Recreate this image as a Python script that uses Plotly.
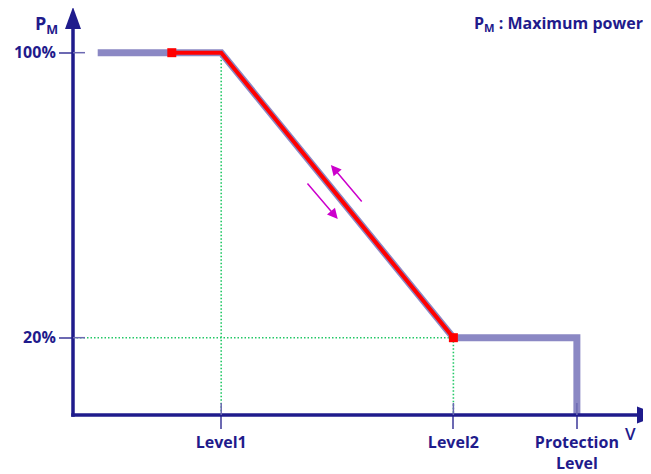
import plotly.graph_objects as go

# ---- data (V in arbitrary units, P in % of maximum power) ----
tick_names = ["Level1", "Level2", "Protection<br>Level"]
tick_v = [3.0, 7.7, 10.2]
p_ticks = [100, 20]
p_tick_labels = ["100%", "20%"]

v_start = 0.5      # start of the curve
v_red = 2.0        # start of the active (red) part
p_max = 100
p_min = 20
p_floor = -1.7     # P level of the V axis

gray_v = [v_start, tick_v[0], tick_v[1], tick_v[2], tick_v[2]]
gray_p = [p_max, p_max, p_min, p_min, p_floor]
red_v = [v_red, tick_v[0], tick_v[1]]
red_p = [p_max, p_max, p_min]
mark_v = [v_red, tick_v[1]]
mark_p = [p_max, p_min]

# arrows along the slope: (start_v, start_p, end_v, end_p)
arrows = [(4.72, 63.7, 5.36, 53.3), (5.87, 57.8, 5.22, 68.5)]

NAVY = "#1f1b8c"
TICK = "#6c69b2"
GRAY = "#8b88c4"
GREEN = "#22c866"
MAG = "#cc00cc"
FONT = "Open Sans"

# the page body has an 8px margin: the figure is sized to fill the rest
OFF = 8
W, H = 651 - OFF, 474 - OFF
AX_X, AX_Y = 73, 415            # page position of the axes corner
L = AX_X - OFF
B = H - (AX_Y - OFF)
PW, PH = W - L, H - B
UX = 49.4
UY = 3.5625
XR = [0, PW / UX]
YR = [p_floor, p_floor + PH / UY]


def px(page_x):
    return (page_x - AX_X) / PW


def py(page_y):
    return (AX_Y - page_y) / PH


fig = go.Figure()

# green dotted guides
fig.add_trace(go.Scatter(
    x=[tick_v[0], tick_v[0], None, 0, tick_v[1], None, tick_v[1], tick_v[1]],
    y=[p_max, p_floor, None, p_min, p_min, None, p_min, p_floor],
    mode="lines", line=dict(color=GREEN, width=1.6, dash="1.5px,2px"),
    hoverinfo="skip", showlegend=False, cliponaxis=False))

fig.add_trace(go.Scatter(x=gray_v, y=gray_p, mode="lines",
                         line=dict(color=GRAY, width=7),
                         showlegend=False, cliponaxis=False))
fig.add_trace(go.Scatter(x=red_v, y=red_p, mode="lines",
                         line=dict(color="#ff0000", width=4),
                         showlegend=False, cliponaxis=False))
fig.add_trace(go.Scatter(x=mark_v, y=mark_p, mode="markers",
                         marker=dict(color="#ff0000", size=9, symbol="square"),
                         showlegend=False, cliponaxis=False))

shapes = []
# axis lines
shapes.append(dict(type="line", xref="paper", yref="paper", x0=0, x1=0,
                   y0=py(416.75), y1=py(26), line=dict(color=NAVY, width=3.5)))
shapes.append(dict(type="line", xref="paper", yref="paper", x0=px(71.25), x1=px(640),
                   y0=0, y1=0, line=dict(color=NAVY, width=3.5)))
# arrowheads
shapes.append(dict(type="path", xref="paper", yref="paper",
                   xsizemode="pixel", ysizemode="pixel", xanchor=0, yanchor=1,
                   path="M0,1 L-8,-21 L8,-21 Z", fillcolor=NAVY, line=dict(width=0)))
shapes.append(dict(type="path", xref="paper", yref="paper",
                   xsizemode="pixel", ysizemode="pixel", xanchor=1, yanchor=0,
                   path="M9,0 L-14,8.5 L-14,-8.5 Z", fillcolor=NAVY, line=dict(width=0)))
# inner parts of the ticks
for p in p_ticks:
    shapes.append(dict(type="line", xref="paper", yref="y", x0=0, x1=12 / PW,
                       y0=p, y1=p, line=dict(color=TICK, width=1.5)))
for v in tick_v:
    shapes.append(dict(type="line", xref="x", yref="paper", x0=v, x1=v,
                       y0=0, y1=12 / PH, line=dict(color=TICK, width=1.5)))

annotations = []
for (x0, y0, x1, y1) in arrows:
    annotations.append(dict(x=x1, y=y1, ax=x0, ay=y0, xref="x", yref="y",
                            axref="x", ayref="y", text="", showarrow=True,
                            arrowhead=2, arrowsize=1.4, arrowwidth=1.5,
                            arrowcolor=MAG))
tf = dict(family=FONT, size=16, color=NAVY, weight="bold")
annotations.append(dict(text="P<sub>M</sub>", xref="paper", yref="paper",
                        x=px(46), y=py(25), xanchor="center", yanchor="middle",
                        showarrow=False,
                        font=dict(family=FONT, size=18, color=NAVY, weight="bold")))
annotations.append(dict(text="P<sub>M</sub> : Maximum power", xref="paper", yref="paper",
                        x=px(645), y=py(23), xanchor="right", yanchor="middle",
                        showarrow=False,
                        font=dict(family=FONT, size=16, color=NAVY, weight="bold")))
annotations.append(dict(text="V", xref="paper", yref="paper",
                        x=px(630), y=py(433), xanchor="center", yanchor="middle",
                        showarrow=False,
                        font=dict(family=FONT, size=17, color=NAVY, weight=600)))

fig.update_layout(
    width=W, height=H, margin=dict(l=L, r=0, t=0, b=B),
    plot_bgcolor="white", paper_bgcolor="white",
    shapes=shapes, annotations=annotations,
    xaxis=dict(range=XR, showgrid=False, zeroline=False, showline=False,
               tickmode="array", tickvals=tick_v, ticktext=tick_names,
               ticks="outside", ticklen=13, tickwidth=1.5, tickcolor=TICK,
               tickfont=tf, fixedrange=True),
    yaxis=dict(range=YR, showgrid=False, zeroline=False, showline=False,
               tickmode="array", tickvals=p_ticks, ticktext=p_tick_labels,
               ticks="outside", ticklen=13, tickwidth=1.5, tickcolor=TICK,
               tickfont=tf, fixedrange=True),
    showlegend=False,
)

fig.write_html("out.html")
